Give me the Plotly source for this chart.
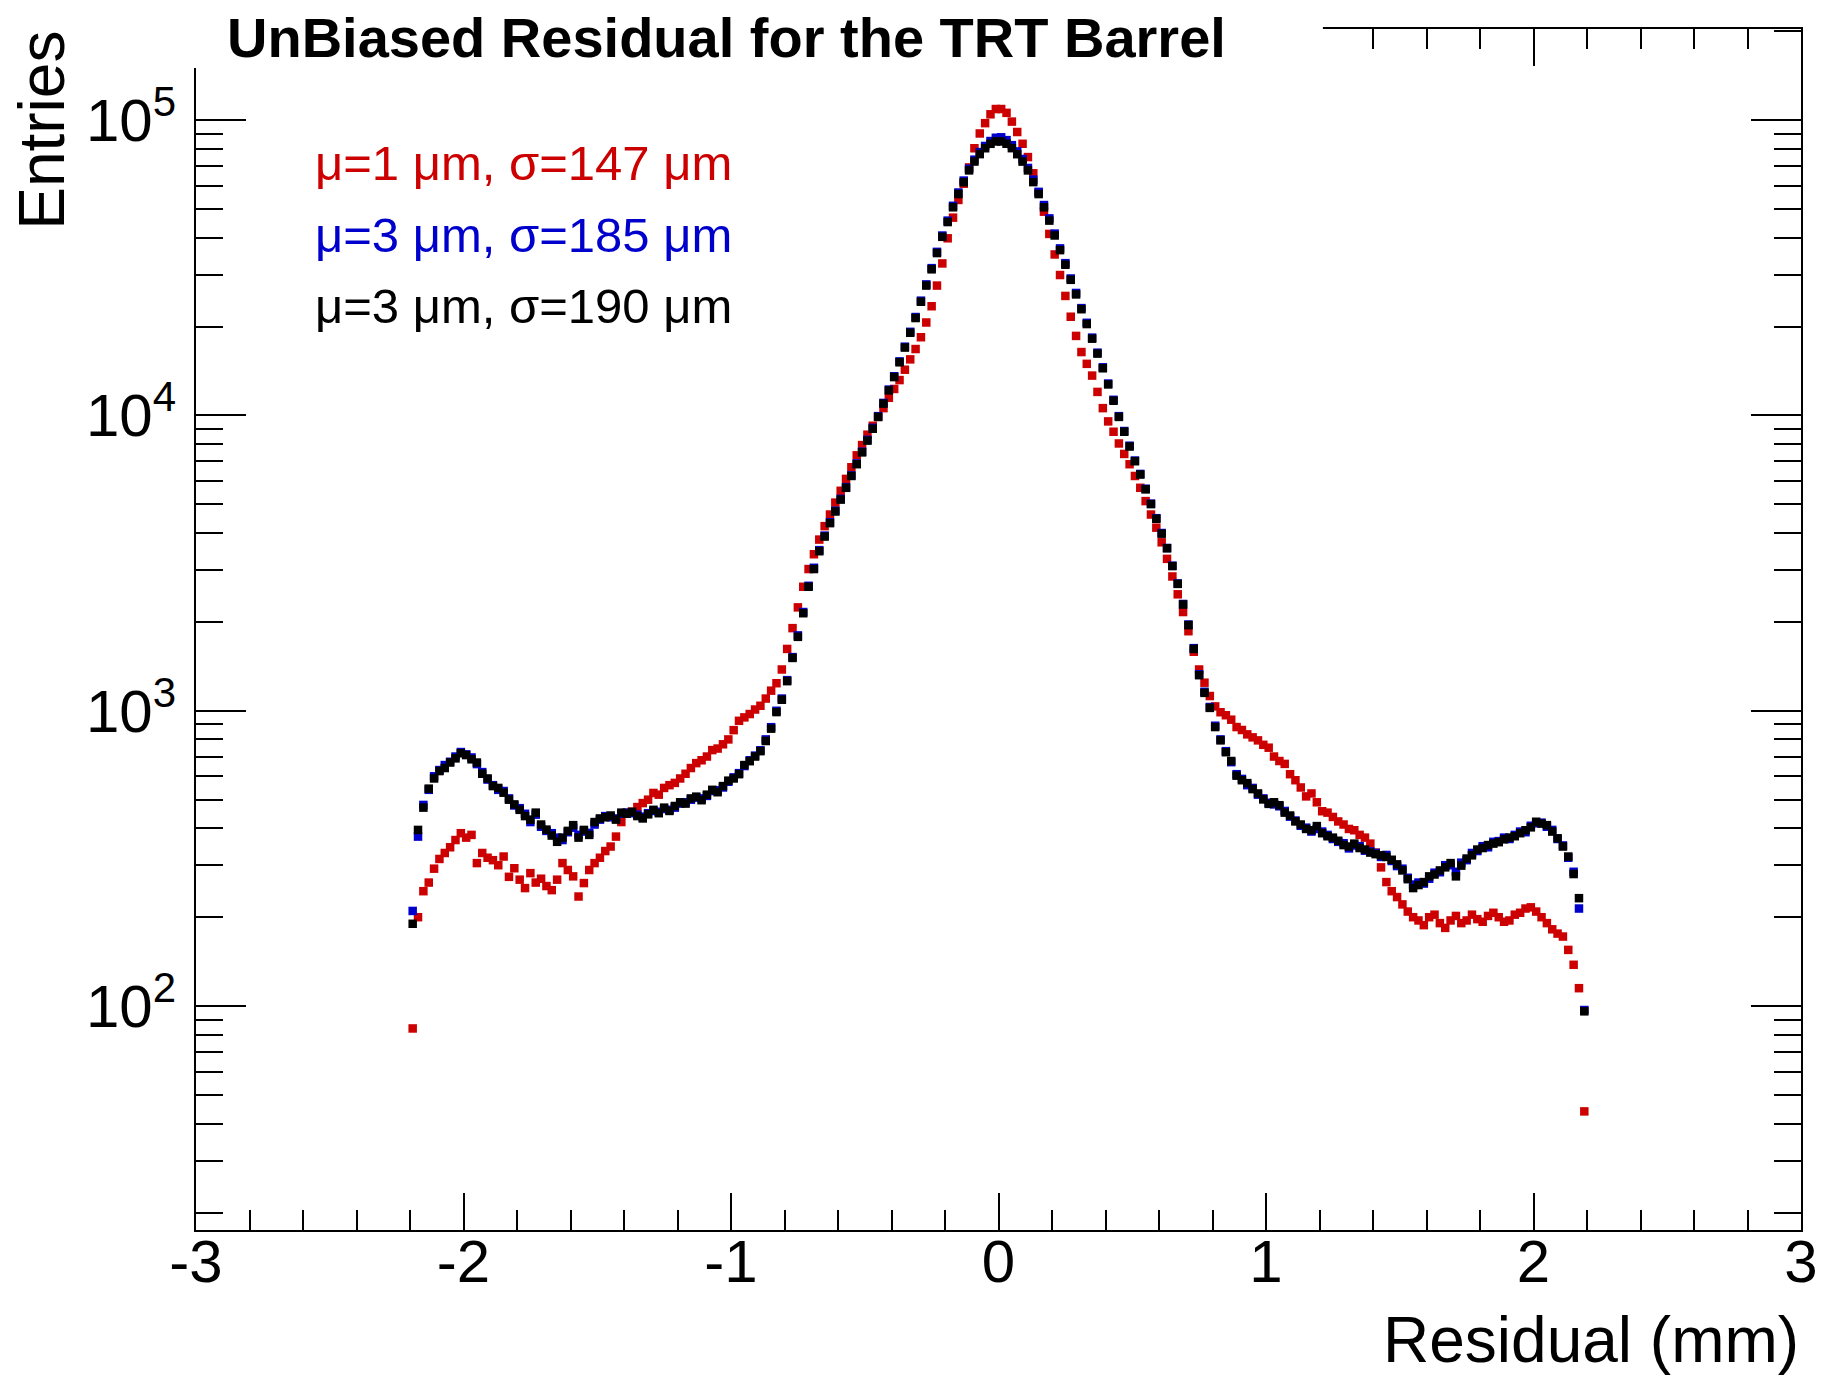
import plotly.graph_objects as go

# ---------------- data ----------------
BIN_LO = -2.2      # mm, lower edge of the histogram
BIN_W = 0.02       # mm, bin width
N_BINS = 220
residual_mm = [round(BIN_LO + BIN_W * (i + 0.5), 3) for i in range(N_BINS)]

entries_red = [
    84, 200, 245, 262, 292, 315, 330, 345, 365, 385,
    372, 380, 305, 330, 318, 312, 300, 321, 274, 293,
    268, 251, 282, 262, 270, 255, 247, 268, 305, 289,
    275, 235, 261, 289, 305, 318, 335, 347, 375, 420,
    451, 455, 472, 487, 500, 527, 520, 548, 560, 570,
    590, 612, 640, 665, 680, 700, 736, 745, 770, 800,
    860, 925, 950, 975, 1010, 1040, 1100, 1170, 1240, 1380,
    1620, 1905, 2240, 2630, 3020, 3390, 3800, 4220, 4620, 5070,
    5560, 6100, 6680, 7330, 7940, 8610, 9230, 9890, 10590, 11480,
    12300, 13180, 14290, 15490, 16790, 18410, 20650, 23440, 27540, 32730,
    39810, 46770, 53700, 60950, 69180, 80350, 90160, 97720, 104700, 109100,
    109100, 105900, 98900, 91200, 83200, 75000, 66100, 56900, 49000, 41200,
    35100, 29900, 25400, 21600, 18600, 16400, 14960, 13650, 12020, 10590,
    9550, 8810, 8040, 7410, 6840, 6240, 5690, 5130, 4620, 4170,
    3720, 3270, 2850, 2480, 2160, 1860, 1585, 1380, 1245, 1122,
    1035, 989, 966, 933, 881, 861, 832, 813, 794, 767,
    750, 700, 676, 661, 610, 582, 550, 513, 525, 490,
    457, 452, 437, 422, 412, 398, 394, 380, 372, 355,
    331, 295, 263, 245, 234, 221, 209, 200, 195, 188,
    200, 204, 191, 184, 195, 202, 191, 195, 204, 197,
    193, 202, 207, 200, 193, 195, 204, 207, 214, 216,
    209, 200, 191, 182, 176, 172, 155, 138, 115, 44,
]

entries_blue = [
    210, 375, 480, 540, 600, 630, 655, 672, 700, 725,
    712, 695, 660, 620, 585, 560, 540, 535, 505, 478,
    468, 448, 420, 445, 405, 392, 385, 372, 365, 388,
    402, 380, 390, 386, 412, 428, 440, 436, 432, 448,
    452, 450, 445, 438, 450, 458, 455, 465, 462, 470,
    485, 490, 500, 508, 505, 515, 535, 538, 550, 575,
    595, 615, 650, 680, 705, 735, 800, 880, 1000, 1100,
    1270, 1520, 1800, 2160, 2650, 3050, 3500, 3920, 4350, 4760,
    5220, 5720, 6270, 6880, 7540, 8270, 9080, 9950, 11030, 12240,
    13580, 15250, 17100, 19200, 21550, 24480, 27790, 31550, 35820, 40680,
    45700, 51300, 56900, 62450, 68500, 73500, 78000, 81800, 85000, 87200,
    87500, 85600, 82300, 78400, 73900, 68900, 62900, 57200, 51600, 46500,
    41300, 36800, 32800, 29100, 26000, 23100, 20600, 18350, 16320, 14560,
    12830, 11300, 9950, 8860, 7900, 7040, 6340, 5650, 5030, 4490,
    4000, 3560, 3100, 2700, 2300, 1960, 1630, 1330, 1160, 1030,
    890, 800, 730, 670, 610, 588, 560, 548, 520, 505,
    488, 482, 475, 458, 438, 425, 408, 402, 390, 398,
    390, 380, 368, 360, 356, 342, 350, 348, 336, 334,
    330, 320, 325, 310, 298, 292, 272, 258, 262, 260,
    270, 283, 284, 300, 300, 285, 306, 312, 330, 335,
    348, 345, 360, 362, 372, 368, 380, 390, 388, 408,
    416, 418, 405, 395, 368, 350, 318, 285, 214, 97,
]

entries_black = [
    190, 395, 470, 545, 590, 625, 640, 668, 690, 718,
    708, 685, 668, 612, 590, 556, 548, 528, 500, 482,
    462, 440, 428, 452, 412, 396, 378, 360, 372, 392,
    410, 372, 395, 380, 420, 432, 436, 442, 428, 452,
    448, 455, 440, 432, 446, 462, 450, 470, 458, 476,
    490, 485, 505, 512, 498, 520, 540, 530, 556, 580,
    590, 610, 655, 675, 700, 730, 790, 870, 990, 1090,
    1260, 1510, 1780, 2140, 2630, 3020, 3470, 3890, 4320, 4730,
    5190, 5690, 6240, 6840, 7500, 8220, 9020, 9890, 10970, 12160,
    13490, 15140, 16980, 19060, 21380, 24270, 27540, 31260, 35480, 40270,
    45190, 50700, 56230, 61660, 67610, 72440, 76740, 80350, 83180, 84720,
    84700, 83200, 80400, 76700, 72400, 67600, 61700, 56200, 50700, 45700,
    40700, 36300, 32400, 28800, 25700, 22900, 20400, 18200, 16200, 14450,
    12740, 11220, 9890, 8810, 7850, 7000, 6310, 5620, 5010, 4470,
    3980, 3550, 3090, 2690, 2290, 1950, 1620, 1320, 1150, 1023,
    881, 794, 724, 676, 603, 582, 569, 543, 525, 501,
    484, 490, 479, 452, 442, 422, 412, 398, 394, 407,
    385, 376, 372, 363, 351, 347, 355, 343, 339, 331,
    327, 324, 320, 313, 302, 288, 269, 251, 257, 263,
    275, 279, 288, 295, 305, 275, 299, 316, 324, 339,
    343, 351, 355, 359, 367, 372, 376, 385, 394, 403,
    421, 415, 410, 390, 370, 347, 321, 280, 232, 96,
]

series_names = ["red", "blue", "black"]
series_labels = ["μ=1 μm, σ=147 μm", "μ=3 μm, σ=185 μm", "μ=3 μm, σ=190 μm"]
series_colors = ["#cc0000", "#0000cc", "#000000"]

title_text = "UnBiased Residual for the TRT Barrel"
x_title = "Residual (mm)"
y_title = "Entries"

x_tick_vals = [-3, -2, -1, 0, 1, 2, 3]
x_tick_text = ["-3", "-2", "-1", "0", "1", "2", "3"]
y_tick_vals = [1e2, 1e3, 1e4, 1e5]
y_tick_text = ["10<sup>2</sup>", "10<sup>3</sup>", "10<sup>4</sup>", "10<sup>5</sup>"]

assert len(entries_red) == len(entries_blue) == len(entries_black) == N_BINS

# ---------------- layout geometry (pixels) ----------------
W, H = 1830, 1375
PL, PR, PT, PB = 196, 1804, 29, 1230


def px(x):
    return (x - PL) / (PR - PL)


def py(y):
    return (PB - y) / (PB - PT)


FONT = "Liberation Sans, Arial, Helvetica, sans-serif"

fig = go.Figure()
for vals, name, col in zip([entries_red, entries_blue, entries_black], series_names, series_colors):
    fig.add_trace(go.Scatter(
        x=residual_mm, y=vals, mode="markers", name=name,
        marker=dict(symbol="square", size=8.5, color=col, line=dict(width=0)),
        showlegend=False,
    ))

x_minor = [k / 5 for k in range(-15, 16) if k % 5 != 0]
y_minor = [m * 10 ** e for e in range(1, 6) for m in range(2, 10)]

axis_common = dict(
    showline=True, linewidth=2, linecolor="black", mirror="allticks",
    ticks="inside", tickcolor="black", tickwidth=1.5,
    showgrid=False, zeroline=False,
)

fig.update_layout(
    width=W, height=H,
    margin=dict(l=PL, r=W - PR, t=PT, b=H - PB, pad=0),
    paper_bgcolor="white", plot_bgcolor="white",
    font=dict(family=FONT, color="black"),
    xaxis=dict(
        **axis_common, range=[-3, 3],
        tickmode="array", tickvals=x_tick_vals, ticktext=x_tick_text,
        ticklen=37, tickfont=dict(size=60, family=FONT), ticklabelstandoff=-22,
        minor=dict(tickmode="array", tickvals=x_minor, ticks="inside", ticklen=20,
                   tickwidth=1.5, tickcolor="black", showgrid=False),
    ),
    yaxis=dict(
        **axis_common, type="log", range=[1.2418, 5.3088],
        tickmode="array", tickvals=y_tick_vals, ticktext=y_tick_text,
        ticklen=50, tickfont=dict(size=60, family=FONT), ticklabelstandoff=6,
        minor=dict(tickmode="array", tickvals=y_minor, ticks="inside", ticklen=27,
                   tickwidth=1.5, tickcolor="black", showgrid=False),
    ),
    shapes=[
        dict(type="rect", xref="paper", yref="paper", layer="above",
             x0=px(0), x1=px(1325), y0=py(68), y1=py(0),
             fillcolor="white", line=dict(width=0)),
    ],
)

annotations = [
    dict(text="<b>" + title_text + "</b>", x=px(225), y=py(38), xanchor="left", yanchor="middle",
         font=dict(size=56, family=FONT, color="black")),
    dict(text=y_title, textangle=-90, x=px(41), y=py(29), xanchor="center", yanchor="top",
         font=dict(size=64, family=FONT, color="black")),
    dict(text=x_title, x=px(1804), y=py(1340), xanchor="right", yanchor="middle",
         font=dict(size=64, family=FONT, color="black")),
]
for lab, col, yy in zip(series_labels, series_colors, [163, 235, 306]):
    annotations.append(dict(text=lab, x=px(313), y=py(yy), xanchor="left", yanchor="middle",
                            font=dict(size=49, family=FONT, color=col)))
for a in annotations:
    a.update(xref="paper", yref="paper", showarrow=False)
fig.update_layout(annotations=annotations)

fig.write_html("out.html")
